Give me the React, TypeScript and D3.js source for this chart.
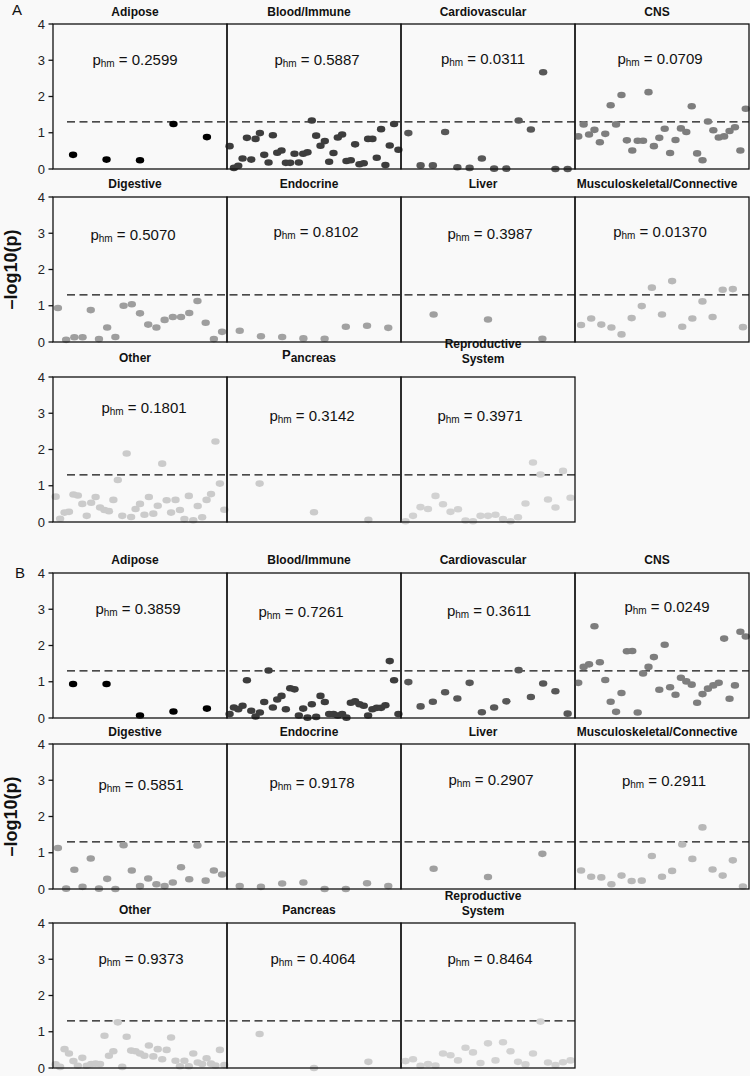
import React from "react";
import * as d3 from "d3";

// ---------- data ----------
const categories = [
  "Adipose", "Blood/Immune", "Cardiovascular", "CNS", "Digestive", "Endocrine",
  "Liver", "Musculoskeletal/Connective", "Other", "Pancreas", "Reproductive System",
];
const colors = [
  "#000000", "#3d3d3d", "#585858", "#7e7e7e", "#9e9e9e", "#a2a2a2",
  "#a0a0a0", "#b8b8b8", "#cbcbcb", "#cbcbcb", "#d2d2d2",
];
const yTicks = [0, 1, 2, 3, 4];
const threshold = 1.3;

const phmA = ["0.2599", "0.5887", "0.0311", "0.0709", "0.5070", "0.8102", "0.3987", "0.01370", "0.1801", "0.3142", "0.3971"];
const phmB = ["0.3859", "0.7261", "0.3611", "0.0249", "0.5851", "0.9178", "0.2907", "0.2911", "0.9373", "0.4064", "0.8464"];

const adiposeA = [0.39, 0.26, 0.24, 1.24, 0.88];
const bloodA = [0.63, 0.03, 0.09, 0.29, 0.86, 0.26, 0.83, 0.99, 0.39, 0.18, 0.93, 0.45, 0.51, 0.17, 0.17, 0.42, 0.18, 0.42, 0.46, 1.34, 0.92, 0.64, 0.77, 0.2, 0.44, 0.87, 0.95, 0.22, 0.24, 0.68, 0.13, 0.16, 0.83, 0.83, 0.31, 1.1, 0.11, 0.65, 1.24, 0.53];
const cardioA = [0.99, 0.1, 0.1, 1.02, 0.05, 0.03, 0.29, 0.01, 0.01, 1.34, 1.09, 2.67, 0.0, 0.0];
const cnsA = [0.9, 1.23, 0.95, 1.08, 0.74, 0.97, 1.76, 1.23, 2.04, 0.79, 0.51, 0.78, 0.78, 2.12, 0.63, 0.86, 1.11, 0.44, 0.8, 1.12, 1.02, 1.73, 0.43, 0.24, 1.31, 1.07, 0.87, 0.9, 1.05, 1.15, 0.51, 1.66];
const digestiveA = [0.94, 0.06, 0.13, 0.13, 0.88, 0.08, 0.4, 0.14, 1.0, 1.04, 0.79, 0.48, 0.4, 0.61, 0.69, 0.69, 0.8, 1.13, 0.53, 0.08, 0.28];
const endocrineA = [0.31, 0.16, 0.14, 0.1, 0.09, 0.42, 0.45, 0.39];
const liverA = [0.76, 0.62, 0.09];
const muscA = [0.47, 0.65, 0.48, 0.4, 0.21, 0.66, 0.99, 1.5, 0.76, 1.68, 0.42, 0.65, 1.12, 0.69, 1.44, 1.46, 0.41];
const otherA = [0.7, 0.09, 0.26, 0.28, 0.76, 0.73, 0.5, 0.17, 0.53, 0.69, 0.4, 0.33, 0.3, 0.61, 1.16, 0.17, 1.89, 0.14, 0.36, 0.5, 0.2, 0.69, 0.23, 0.45, 1.61, 0.6, 0.26, 0.61, 0.33, 0.08, 0.72, 0.05, 0.44, 0.13, 0.61, 0.77, 2.22, 1.06, 0.34];
const pancreasA = [1.06, 0.27, 0.06];
const reproA = [0.02, 0.17, 0.41, 0.36, 0.72, 0.49, 0.28, 0.35, 0.04, 0.02, 0.17, 0.17, 0.2, 0.08, 0.02, 0.13, 0.51, 1.64, 1.31, 0.62, 0.4, 1.41, 0.67];

const adiposeB = [0.94, 0.94, 0.07, 0.18, 0.26];
const bloodB = [0.11, 0.29, 0.24, 0.34, 1.04, 0.2, 0.04, 0.15, 0.44, 1.31, 0.29, 0.51, 0.61, 0.24, 0.82, 0.79, 0.07, 0.26, 0.01, 0.38, 0.03, 0.61, 0.44, 0.11, 0.11, 0.07, 0.11, 0.01, 0.42, 0.46, 0.38, 0.34, 0.07, 0.24, 0.28, 0.28, 0.35, 1.57, 1.04, 0.11];
const cardioB = [0.99, 0.32, 0.45, 0.71, 0.54, 0.97, 0.16, 0.29, 0.46, 1.32, 0.58, 0.95, 0.74, 0.12];
const cnsB = [0.97, 1.41, 1.48, 2.53, 1.54, 1.05, 0.45, 0.17, 0.69, 1.84, 1.85, 0.15, 1.23, 1.41, 1.68, 0.78, 2.02, 0.85, 0.64, 1.11, 1.01, 0.92, 0.42, 0.66, 0.81, 0.9, 0.97, 2.19, 0.53, 0.9, 2.38, 2.25];
const digestiveB = [1.13, 0.01, 0.53, 0.06, 0.84, 0.01, 0.28, 0.0, 1.21, 0.51, 0.08, 0.29, 0.13, 0.08, 0.18, 0.6, 0.27, 1.2, 0.23, 0.51, 0.4];
const endocrineB = [0.08, 0.06, 0.15, 0.18, 0.0, 0.0, 0.16, 0.08];
const liverB = [0.56, 0.33, 0.97];
const muscB = [0.51, 0.34, 0.32, 0.13, 0.37, 0.22, 0.23, 0.91, 0.34, 0.5, 1.23, 0.83, 1.7, 0.54, 0.37, 0.79, 0.07];
const otherB = [0.1, 0.03, 0.52, 0.4, 0.19, 0.06, 0.28, 0.06, 0.11, 0.12, 0.11, 0.89, 0.34, 0.46, 1.26, 0.03, 0.86, 0.48, 0.46, 0.4, 0.34, 0.62, 0.32, 0.52, 0.24, 0.5, 0.84, 0.2, 0.05, 0.2, 0.05, 0.4, 0.15, 0.11, 0.27, 0.12, 0.07, 0.5, 0.08];
const pancreasB = [0.94, 0.0, 0.17];
const reproB = [0.19, 0.24, 0.06, 0.11, 0.07, 0.4, 0.35, 0.21, 0.56, 0.43, 0.14, 0.68, 0.21, 0.71, 0.46, 0.17, 0.1, 0.4, 1.28, 0.15, 0.08, 0.16, 0.21];

const seriesA = [adiposeA, bloodA, cardioA, cnsA, digestiveA, endocrineA, liverA, muscA, otherA, pancreasA, reproA];
const seriesB = [adiposeB, bloodB, cardioB, cnsB, digestiveB, endocrineB, liverB, muscB, otherB, pancreasB, reproB];

// ---------- layout ----------
const FONT = "'Liberation Sans', Arial, Helvetica, sans-serif";
const W = 174;
const H = 145;
const COL_X = [53, 227, 401, 575];
const LAYOUT = {
  A: { tops: [24, 197, 377], titleY: [16, 188, 362], letterX: 12, letterY: 15,
       label: [[-5, 41], [3, 41], [-5, 40], [-2, 40], [-7, 43], [2, 40], [2, 42], [-2, 40], [4, 36], [-2, 44], [-8, 44]] },
  B: { tops: [573, 744, 923], titleY: [564, 736, 914], letterX: 15, letterY: 578,
       label: [[-2, 41], [-13, 44], [1, 43], [5, 39], [1, 46], [-2, 44], [3, 41], [2, 42], [1, 41], [-1, 41], [2, 41]] },
};

function Title({ name, cx, y, raisedP }: { name: string; cx: number; y: number; raisedP: boolean }) {
  if (name === "Reproductive System") {
    return (
      <g fontFamily={FONT} fontWeight="bold" fontSize={12} textAnchor="middle" fill="#111">
        <text x={cx} y={y - 14}>Reproductive</text>
        <text x={cx} y={y + 1}>System</text>
      </g>
    );
  }
  if (name === "Pancreas" && raisedP) {
    return (
      <text x={cx} y={y} fontFamily={FONT} fontWeight="bold" fontSize={12} textAnchor="middle" fill="#111">
        <tspan dy={-3} fontSize={13}>P</tspan>
        <tspan dy={3}>ancreas</tspan>
      </text>
    );
  }
  return (
    <text x={cx} y={y} fontFamily={FONT} fontWeight="bold" fontSize={12} textAnchor="middle" fill="#111">
      {name}
    </text>
  );
}

function PanelSet({ which, series, phm }: { which: "A" | "B"; series: number[][]; phm: string[] }) {
  const L = LAYOUT[which];
  const rows = [0, 1, 2];
  return (
    <g>
      <text x={L.letterX} y={L.letterY} fontFamily={FONT} fontSize={15} fill="#111">{which}</text>
      {/* y axis title, centered on middle row */}
      <text
        transform={`translate(17,${L.tops[1] + H / 2}) rotate(-90)`}
        fontFamily={FONT} fontWeight="bold" fontSize={18} textAnchor="middle" fill="#111"
      >–log10(p)</text>
      {rows.map((r) => {
        const top = L.tops[r];
        const y = d3.scaleLinear().domain([0, 4]).range([top + H, top]);
        const nCols = r === 2 ? 3 : 4;
        const rowRight = COL_X[0] + nCols * W;
        return (
          <g key={r}>
            {/* dashed threshold */}
            <line x1={67} x2={rowRight} y1={y(threshold)} y2={y(threshold)}
              stroke="#111" strokeWidth={1.4} strokeDasharray="8,4.5" />
            {/* y axis ticks */}
            {yTicks.map((t) => (
              <g key={t}>
                <line x1={COL_X[0] - 4.5} x2={COL_X[0]} y1={y(t)} y2={y(t)} stroke="#111" strokeWidth={1.3} />
                <text x={45} y={y(t) + 4.5} fontFamily={FONT} fontSize={13} textAnchor="end" fill="#222">{t}</text>
              </g>
            ))}
          </g>
        );
      })}
      {categories.map((name, i) => {
        const r = Math.floor(i / 4);
        const c = i % 4;
        const top = L.tops[r];
        const x0 = COL_X[c];
        const vals = series[i];
        const x = d3.scalePoint<number>().domain(d3.range(vals.length)).range([x0, x0 + W]).padding(0.6);
        const y = d3.scaleLinear().domain([0, 4]).range([top + H, top]);
        const cx = x0 + W / 2;
        const [ldx, ldy] = L.label[i];
        return (
          <g key={name}>
            {vals.map((v, k) => (
              <ellipse key={k} cx={x(k)} cy={y(v)} rx={4.2} ry={3.3} fill={colors[i]} />
            ))}
            <rect x={x0} y={top} width={W} height={H} fill="none" stroke="#111" strokeWidth={1.3} />
            <Title name={name} cx={cx - 5} y={L.titleY[r]} raisedP={which === "A"} />
            <text x={cx + ldx} y={top + ldy} fontFamily={FONT} fontSize={15} textAnchor="middle" fill="#111">
              <tspan>p</tspan>
              <tspan fontSize={10} dy={2}>hm</tspan>
              <tspan dy={-2}>{" = " + phm[i]}</tspan>
            </text>
          </g>
        );
      })}
    </g>
  );
}

export default function App() {
  return (
    <svg
      width={750}
      height={1076}
      style={{ position: "absolute", left: 0, top: 0, display: "block" }}
    >
      <rect x={0} y={0} width={750} height={1076} fill="#f9f9f9" />
      <PanelSet which="A" series={seriesA} phm={phmA} />
      <PanelSet which="B" series={seriesB} phm={phmB} />
    </svg>
  );
}
